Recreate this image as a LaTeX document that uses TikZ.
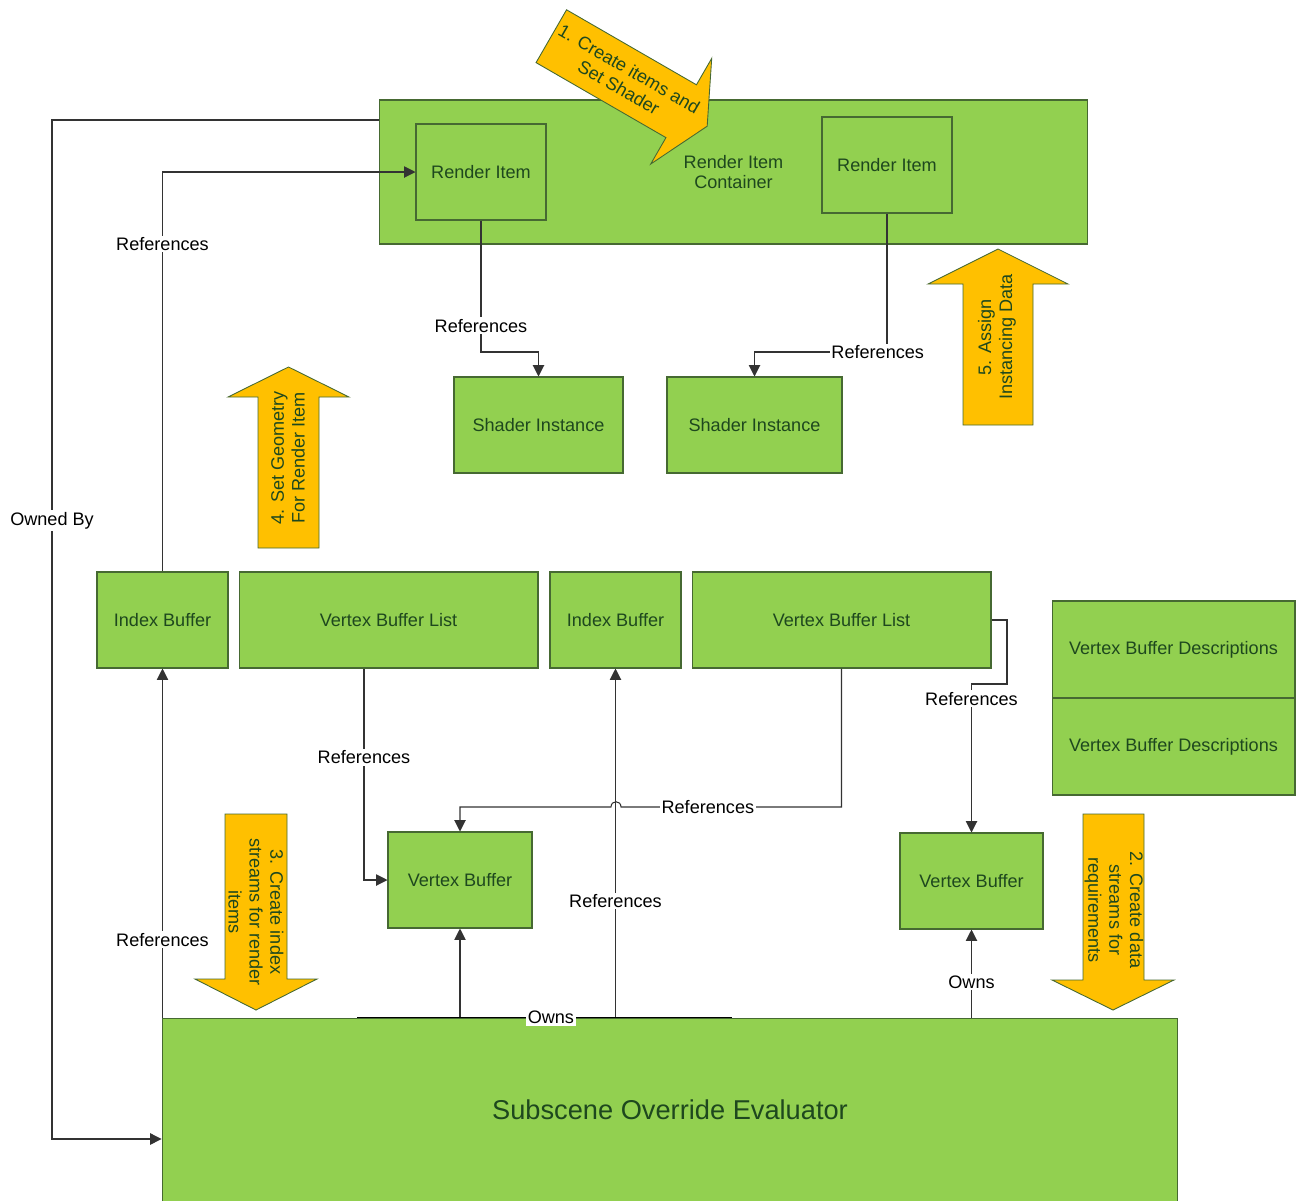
\documentclass[tikz,border=0pt]{standalone}
\usepackage{fontspec}
\setmainfont{Liberation Sans}
\usetikzlibrary{arrows.meta}
\definecolor{boxgreen}{RGB}{146,208,80}
\definecolor{boxline}{RGB}{70,105,50}
\definecolor{boxtext}{RGB}{30,72,30}
\definecolor{stepgold}{RGB}{255,192,0}

\begin{document}
\begin{tikzpicture}[x=0.02cm,y=-0.02cm,
  every node/.style={font=\fontsize{10.3pt}{11.9pt}\selectfont},
  block/.style={rectangle,draw=boxline,fill=boxgreen,text=boxtext,line width=0.6pt,minimum height=1.92cm,inner sep=0pt,align=center},
  conn/.style={draw=black!80,line width=0.6pt},
  refarrow/.style={conn,-{Triangle[length=6.5pt,width=6.5pt]}},
  lbl/.style={fill=white,inner sep=1pt,text=black},
  stepshape/.style={draw=boxline,fill=stepgold,line width=0.5pt},
  steptext/.style={text=boxtext,align=center}]
\clip (0,0) rectangle (1296,1201);

\node[block,minimum width=14.18cm,minimum height=2.88cm] (cont) at (733.5,172) {Render Item\\Container};
\node[block,minimum width=2.6cm] (riA) at (481,172) {Render Item};
\node[block,minimum width=2.6cm] (riB) at (887,165) {Render Item};
\node[block,minimum width=3.38cm] (siA) at (538.5,425) {Shader Instance};
\node[block,minimum width=3.5cm] (siB) at (754.5,425) {Shader Instance};
\node[block,minimum width=2.62cm] (ibA) at (162.5,620) {Index Buffer};
\node[block,minimum width=5.98cm] (vblA) at (388.5,620) {Vertex Buffer List};
\node[block,minimum width=2.62cm] (ibB) at (615.5,620) {Index Buffer};
\node[block,minimum width=5.98cm] (vblB) at (841.5,620) {Vertex Buffer List};
\node[block,minimum width=4.86cm,minimum height=1.94cm] (vbdA) at (1173.5,649.5) {Vertex Buffer Descriptions};
\node[block,minimum width=4.86cm,minimum height=1.94cm] (vbdB) at (1173.5,746.5) {Vertex Buffer Descriptions};
\node[block,minimum width=2.88cm] (vbA) at (460,880) {Vertex Buffer};
\node[block,minimum width=2.86cm] (vbB) at (971.5,881) {Vertex Buffer};
\node[block,minimum width=20.32cm,minimum height=3.68cm,font=\fontsize{15.5pt}{18pt}\selectfont] (eval) at (670,1110) {Subscene Override Evaluator};

% connectors
\draw[refarrow] (cont.west |- 0,120) -- (52,120) -- node[lbl,pos=0.393]{Owned By} (52,1139) -- (eval.west |- 0,1139);
\draw[refarrow] (ibA.north) -- node[lbl,pos=0.82]{References} (ibA.north |- riA.west) -- (riA.west);
\draw[refarrow] (eval.north -| ibA.south) -- node[lbl,pos=0.223]{References} (ibA.south);
\draw[refarrow] (riA.south) -- node[lbl,pos=0.8]{References} (riA.south |- 0,352) -- (siA.north |- 0,352) -- (siA.north);
\draw[refarrow] (riB.south) -- (riB.south |- 0,352) -- node[lbl,pos=0.07]{References} (siB.north |- 0,352) -- (siB.north);
\draw[refarrow] (vblA.south -| 364,0) -- node[lbl,pos=0.42]{References} (vbA.west -| 364,0) -- (vbA.west);
\draw[refarrow] (vblB.south) -- (vblB.south |- 0,807) -- node[lbl,pos=0.606]{References} (621,807) .. controls (621,800) and (611,800) .. (611,807) -- (vbA.north |- 0,807) -- (vbA.north);
\draw[refarrow] (eval.north -| ibB.south) -- node[lbl,pos=0.334]{References} (ibB.south);
\draw[refarrow] (eval.north -| vbA.south) -- (vbA.south);
\draw[conn,draw=black] (eval.north -| 357,0) -- node[lbl,pos=0.517]{Owns} (eval.north -| 732,0);
\draw[refarrow] (eval.north -| vbB.south) -- node[lbl,pos=0.4]{Owns} (vbB.south);
\draw[refarrow] (vblB.east) -- (1007,620) -- (1007,684) -- (vbB.north |- 0,684) -- node[lbl,pos=0.1]{References} (vbB.north);

% step arrows
\begin{scope}[shift={(551.3,36.2)},rotate=-30]
\draw[stepshape] (0,-30.5) -- (150,-30.5) -- (150,-61) -- (180,0) -- (150,61) -- (150,30.5) -- (0,30.5) -- cycle;
\node[steptext,rotate=-30] (stepA) at (84,0) {1. Create items and\\Set Shader};
\end{scope}
\draw[stepshape] (1083,814) -- (1144,814) -- (1144,980) -- (1174,980) -- (1113,1010) -- (1052,980) -- (1083,980) -- cycle;
\node[steptext,rotate=-90] (stepB) at (1114,910) {2. Create data\\streams for\\requirements};
\draw[stepshape] (225,814) -- (287,814) -- (287,979) -- (317,979) -- (256,1010) -- (195,979) -- (225,979) -- cycle;
\node[steptext,rotate=-90] (stepC) at (256,912) {3. Create index\\streams for render\\items};
\draw[stepshape] (258,548) -- (258,397) -- (228,397) -- (288.5,367) -- (349,397) -- (319,397) -- (319,548) -- cycle;
\node[steptext,rotate=90] (stepD) at (288,458) {4. Set Geometry\\For Render Item};
\draw[stepshape] (963,425) -- (963,284) -- (928,284) -- (998,249) -- (1068,284) -- (1033,284) -- (1033,425) -- cycle;
\node[steptext,rotate=90] (stepE) at (997,337) {5. Assign\\Instancing Data};

\end{tikzpicture}
\end{document}
